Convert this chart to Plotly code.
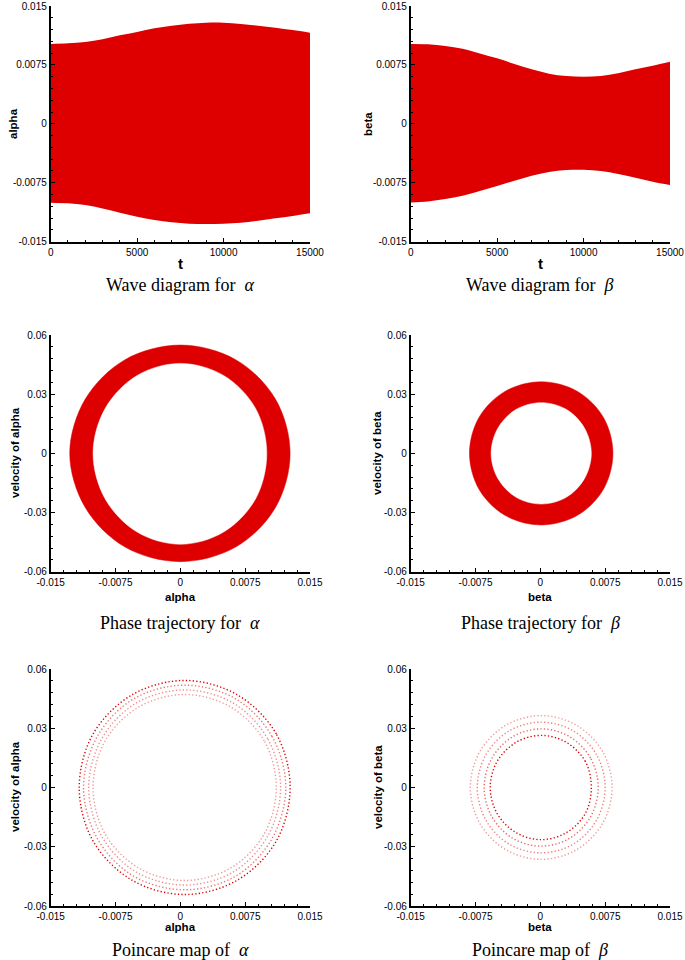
import plotly.graph_objects as go

W, H = 685, 960
RED = "#de0000"

# ---------------- data ----------------
t_vals = [0, 1000, 2000, 3000, 4000, 5000, 6000, 7000, 8000, 9000, 10000,
          11000, 12000, 13000, 14000, 15000]
alpha_upper = [0.01016, 0.01025, 0.01042, 0.01076, 0.01127, 0.01169, 0.01216, 0.0125,
               0.01275, 0.01288, 0.01288, 0.01271, 0.0125, 0.01224, 0.01194, 0.01161]
alpha_lower = [-0.01004, -0.01012, -0.01033, -0.01076, -0.01131, -0.01182, -0.01224, -0.01254,
               -0.01271, -0.01275, -0.01271, -0.01258, -0.01233, -0.01203, -0.01173, -0.01139]
beta_upper = [0.01016, 0.01012, 0.00991, 0.00957, 0.00897, 0.00834, 0.00762, 0.00694,
              0.00639, 0.00609, 0.00600, 0.00609, 0.00643, 0.00694, 0.00740, 0.00791]
beta_lower = [-0.01000, -0.00987, -0.00957, -0.00914, -0.00855, -0.00792, -0.00724, -0.0066,
              -0.00613, -0.00588, -0.00584, -0.00601, -0.00639, -0.00685, -0.00736, -0.00778]

# phase trajectory boundaries (points around the ring, every 30 degrees)
alpha_phase_outer_x = [0.0127, 0.0110, 0.0064, 0.0, -0.0064, -0.0110, -0.0128, -0.0110, -0.0064, 0.0, 0.0064, 0.0110]
alpha_phase_outer_y = [0.0, 0.0275, 0.0475, 0.0549, 0.0475, 0.0275, 0.0, -0.0275, -0.0475, -0.0549, -0.0475, -0.0275]
alpha_phase_inner_x = [0.0100, 0.0087, 0.0050, 0.0, -0.0050, -0.0087, -0.0101, -0.0087, -0.0050, 0.0, 0.0050, 0.0087]
alpha_phase_inner_y = [0.0, 0.0228, 0.0395, 0.0456, 0.0395, 0.0228, 0.0, -0.0231, -0.0399, -0.0461, -0.0399, -0.0231]

beta_phase_outer_x = [0.0084, 0.0073, 0.0043, 0.0001, -0.0041, -0.0071, -0.0082, -0.0071, -0.0041, 0.0001, 0.0043, 0.0073]
beta_phase_outer_y = [0.0, 0.0182, 0.0314, 0.0363, 0.0314, 0.0182, 0.0, -0.0182, -0.0314, -0.0363, -0.0314, -0.0182]
beta_phase_inner_x = [0.0059, 0.0051, 0.0030, 0.0001, -0.0028, -0.0049, -0.0057, -0.0049, -0.0028, 0.0001, 0.0030, 0.0051]
beta_phase_inner_y = [0.0, 0.0129, 0.0223, 0.0257, 0.0223, 0.0129, 0.0, -0.0129, -0.0223, -0.0257, -0.0223, -0.0129]

# poincare map dotted bands (outer -> inner loops)
alpha_pc_x = [
    [0.0127, 0.0111, 0.0066, 0.0005, -0.0056, -0.0101, -0.0117, -0.0101, -0.0056, 0.0005, 0.0066, 0.0111],
    [0.0122, 0.0106, 0.0064, 0.0005, -0.0054, -0.0096, -0.0112, -0.0096, -0.0054, 0.0005, 0.0064, 0.0106],
    [0.0116, 0.0101, 0.0061, 0.0005, -0.0051, -0.0091, -0.0106, -0.0091, -0.0051, 0.0005, 0.0061, 0.0101],
    [0.0111, 0.0097, 0.0058, 0.0005, -0.0048, -0.0087, -0.0101, -0.0087, -0.0048, 0.0005, 0.0058, 0.0097],
]
alpha_pc_y = [
    [0.0, 0.0271, 0.0469, 0.0542, 0.0469, 0.0271, 0.0, -0.0271, -0.0469, -0.0542, -0.0469, -0.0271],
    [0.0, 0.0259, 0.0449, 0.0518, 0.0449, 0.0259, 0.0, -0.0259, -0.0449, -0.0518, -0.0449, -0.0259],
    [0.0, 0.0247, 0.0428, 0.0494, 0.0428, 0.0247, 0.0, -0.0247, -0.0428, -0.0494, -0.0428, -0.0247],
    [0.0, 0.0236, 0.0408, 0.0471, 0.0408, 0.0236, 0.0, -0.0236, -0.0408, -0.0471, -0.0408, -0.0236],
]
alpha_pc_alpha = [1.0, 0.55, 0.45, 0.4]

beta_pc_x = [
    [0.0083, 0.0072, 0.0042, 0.0001, -0.0040, -0.0070, -0.0081, -0.0070, -0.0040, 0.0001, 0.0042, 0.0072],
    [0.0075, 0.0065, 0.0038, 0.0001, -0.0036, -0.0063, -0.0073, -0.0063, -0.0036, 0.0001, 0.0038, 0.0065],
    [0.0067, 0.0058, 0.0034, 0.0001, -0.0032, -0.0056, -0.0065, -0.0056, -0.0032, 0.0001, 0.0034, 0.0058],
    [0.0059, 0.0052, 0.0030, 0.0001, -0.0028, -0.0050, -0.0058, -0.0050, -0.0028, 0.0001, 0.0030, 0.0052],
]
beta_pc_y = [
    [0.0, 0.0182, 0.0315, 0.0364, 0.0315, 0.0182, 0.0, -0.0182, -0.0315, -0.0364, -0.0315, -0.0182],
    [0.0, 0.0166, 0.0287, 0.0331, 0.0287, 0.0166, 0.0, -0.0166, -0.0287, -0.0331, -0.0287, -0.0166],
    [0.0, 0.0149, 0.0257, 0.0297, 0.0257, 0.0149, 0.0, -0.0149, -0.0257, -0.0297, -0.0257, -0.0149],
    [0.0, 0.0132, 0.0229, 0.0264, 0.0229, 0.0132, 0.0, -0.0132, -0.0229, -0.0264, -0.0229, -0.0132],
]
beta_pc_alpha = [0.4, 0.5, 0.6, 1.0]

# tick labels
t_ticks = [0, 5000, 10000, 15000]
t_ticktext = ["0", "5000", "10000", "15000"]
amp_ticks = [-0.015, -0.0075, 0, 0.0075, 0.015]
amp_ticktext = ["-0.015", "-0.0075", "0", "0.0075", "0.015"]
vel_ticks = [-0.06, -0.03, 0, 0.03, 0.06]
vel_ticktext = ["-0.06", "-0.03", "0", "0.03", "0.06"]

captions = ["Wave diagram for  <i>α</i>", "Wave diagram for  <i>β</i>",
            "Phase trajectory for  <i>α</i>", "Phase trajectory for  <i>β</i>",
            "Poincare map of  <i>α</i>", "Poincare map of  <i>β</i>"]

# ---------------- layout geometry (pixels) ----------------
col_px = [(50.7, 310.0), (410.7, 670.0)]
row_px = [(6.0, 241.7), (335.0, 571.7), (669.0, 906.0)]


def px2x(p):
    return p / W


def px2y(p):
    return 1 - p / H


def xd(a, b):
    return [px2x(a), px2x(b)]


def yd(top, bot):
    return [px2y(bot), px2y(top)]


def closed(v):
    return list(v) + [v[0]]


fig = go.Figure()


def ax(i):
    return ("x" if i == 1 else f"x{i}"), ("y" if i == 1 else f"y{i}")


# wave diagrams
for i, (up, lo) in zip([1, 2], [(alpha_upper, alpha_lower), (beta_upper, beta_lower)]):
    xa, ya = ax(i)
    fig.add_trace(go.Scatter(x=t_vals, y=up, mode="lines", line=dict(width=0, shape="spline", color=RED),
                             xaxis=xa, yaxis=ya, showlegend=False, hoverinfo="skip"))
    fig.add_trace(go.Scatter(x=t_vals, y=lo, mode="lines", line=dict(width=0, shape="spline", color=RED),
                             fill="tonexty", fillcolor=RED, xaxis=xa, yaxis=ya, showlegend=False,
                             hoverinfo="skip"))

# phase trajectories
for i, (ox, oy, ix, iy) in zip([3, 4], [
        (alpha_phase_outer_x, alpha_phase_outer_y, alpha_phase_inner_x, alpha_phase_inner_y),
        (beta_phase_outer_x, beta_phase_outer_y, beta_phase_inner_x, beta_phase_inner_y)]):
    xa, ya = ax(i)
    fig.add_trace(go.Scatter(x=closed(ox), y=closed(oy), mode="lines", fill="toself", fillcolor=RED,
                             line=dict(width=0.5, color=RED, shape="spline"),
                             xaxis=xa, yaxis=ya, showlegend=False, hoverinfo="skip"))
    fig.add_trace(go.Scatter(x=closed(ix), y=closed(iy), mode="lines", fill="toself", fillcolor="white",
                             line=dict(width=0.5, color="white", shape="spline"),
                             xaxis=xa, yaxis=ya, showlegend=False, hoverinfo="skip"))

# poincare maps
for i, (lx, ly, la) in zip([5, 6], [(alpha_pc_x, alpha_pc_y, alpha_pc_alpha),
                                    (beta_pc_x, beta_pc_y, beta_pc_alpha)]):
    xa, ya = ax(i)
    for px_, py_, op in zip(lx, ly, la):
        fig.add_trace(go.Scatter(x=closed(px_), y=closed(py_), mode="lines", opacity=op,
                                 line=dict(width=1.4, color=RED, shape="spline", dash="1.3px,2.2px"),
                                 xaxis=xa, yaxis=ya, showlegend=False, hoverinfo="skip"))

tickfont = dict(family="Arial, Liberation Sans, sans-serif", size=10, color="black")
common = dict(showline=True, linecolor="black", linewidth=1.8, ticks="inside", ticklen=4,
              tickwidth=1.2, tickcolor="black", showgrid=False, zeroline=False,
              tickfont=tickfont, tickmode="array", mirror=False, fixedrange=True,
              automargin=False, ticklabeloverflow="allow")

layout = dict(template="none", width=W, height=H, margin=dict(l=0, r=0, t=0, b=0, pad=0),
              paper_bgcolor="white", plot_bgcolor="white", showlegend=False)

for r in range(3):
    for c in range(2):
        i = r * 2 + c + 1
        xk = "xaxis" if i == 1 else f"xaxis{i}"
        yk = "yaxis" if i == 1 else f"yaxis{i}"
        ya_name = "y" if i == 1 else f"y{i}"
        xa_name = "x" if i == 1 else f"x{i}"
        mt = dict(ticks="inside", ticklen=2, tickwidth=1, tickcolor="black")
        if r == 0:
            xcfg = dict(range=[0, 15000], tickvals=t_ticks, ticktext=t_ticktext,
                        minor=dict(mt, tick0=0, dtick=1000))
            ycfg = dict(range=[-0.015, 0.015], tickvals=amp_ticks, ticktext=amp_ticktext,
                        minor=dict(mt, tick0=-0.015, dtick=0.0015))
        else:
            xcfg = dict(range=[-0.015, 0.015], tickvals=amp_ticks, ticktext=amp_ticktext,
                        minor=dict(mt, tick0=-0.015, dtick=0.0015))
            ycfg = dict(range=[-0.06, 0.06], tickvals=vel_ticks, ticktext=vel_ticktext,
                        minor=dict(mt, tick0=-0.06, dtick=0.006))
        layout[xk] = dict(common, domain=xd(*col_px[c]), anchor=ya_name, **xcfg)
        layout[yk] = dict(common, domain=yd(*row_px[r]), anchor=xa_name, **ycfg)

fig.update_layout(**layout)

# ---------------- texts ----------------
bold = dict(family="Arial, Liberation Sans, sans-serif", color="black")
serif = dict(family="Times New Roman, Liberation Serif, serif", size=18, color="black")


def ann(x, y, text, font, angle=0):
    fig.add_annotation(x=px2x(x), y=px2y(y), xref="paper", yref="paper", text=text,
                       showarrow=False, font=font, textangle=angle,
                       xanchor="center", yanchor="middle")


cap_y = [285, 623, 950]
for r in range(3):
    for c in range(2):
        cx = (col_px[c][0] + col_px[c][1]) / 2
        ann(cx, cap_y[r], captions[r * 2 + c], serif)

# x axis titles
for c in range(2):
    cx = (col_px[c][0] + col_px[c][1]) / 2
    ann(cx, 263, "<b>t</b>", dict(bold, size=15))
ann((col_px[0][0] + col_px[0][1]) / 2, 597, "<b>alpha</b>", dict(bold, size=11.5))
ann((col_px[1][0] + col_px[1][1]) / 2, 597, "<b>beta</b>", dict(bold, size=11.5))
ann((col_px[0][0] + col_px[0][1]) / 2, 927, "<b>alpha</b>", dict(bold, size=11.5))
ann((col_px[1][0] + col_px[1][1]) / 2, 927, "<b>beta</b>", dict(bold, size=11.5))

# y axis titles
ann(13, 124, "<b>alpha</b>", dict(bold, size=11.5), -90)
ann(368, 124, "<b>beta</b>", dict(bold, size=11.5), -90)
ann(15, 453, "<b>velocity of alpha</b>", dict(bold, size=11.5), -90)
ann(377, 453, "<b>velocity of beta</b>", dict(bold, size=11.5), -90)
ann(15, 787, "<b>velocity of alpha</b>", dict(bold, size=11.5), -90)
ann(378, 787, "<b>velocity of beta</b>", dict(bold, size=11.5), -90)

# remove the default page margin so the 685x960 figure fills the window exactly
fig.write_html("out.html", config={"displayModeBar": False},
               post_script="document.body.style.margin='0px';")
